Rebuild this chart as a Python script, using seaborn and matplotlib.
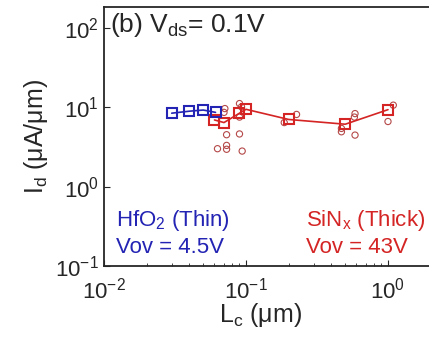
import matplotlib
matplotlib.use("Agg")
import matplotlib.pyplot as plt
import seaborn as sns
import pandas as pd

# HfO2 (thin) averages
hfo2_lc = [0.030, 0.040, 0.050, 0.061]
hfo2_id = [8.4, 8.9, 9.2, 8.6]

# SiNx (thick) averages
sinx_lc = [0.060, 0.070, 0.090, 0.100, 0.20, 0.50, 1.00]
sinx_id = [6.9, 6.4, 8.4, 9.4, 7.0, 6.1, 9.3]

# SiNx individual devices
raw_lc = [0.063, 0.071, 0.070, 0.073, 0.073, 0.073,
          0.090, 0.093, 0.090, 0.090, 0.094,
          0.227, 0.186,
          0.586, 0.580, 0.470, 0.470, 0.586,
          1.09, 1.00]
raw_id = [3.0, 9.6, 8.6, 4.5, 3.3, 2.95,
          11.1, 10.1, 7.5, 4.6, 2.8,
          8.1, 6.4,
          8.3, 7.5, 5.4, 4.9, 4.45,
          10.6, 6.6]

hfo2 = pd.DataFrame({"Lc": hfo2_lc, "Id": hfo2_id})
sinx = pd.DataFrame({"Lc": sinx_lc, "Id": sinx_id})
raw = pd.DataFrame({"Lc": raw_lc, "Id": raw_id})

blue = "#2323b4"
red = "#d42424"
dark_red = "#b54848"

sns.set_style("ticks")
plt.rcParams["font.family"] = ["Liberation Sans", "DejaVu Sans"]
plt.rcParams["mathtext.fontset"] = "custom"
plt.rcParams["mathtext.rm"] = "Liberation Sans"
plt.rcParams["mathtext.it"] = "Liberation Sans"

fig = plt.figure(figsize=(4.29, 3.38), dpi=100)
# right part of the axes runs past the figure edge, as in the cropped original
ax = fig.add_axes([0.2424, 0.213, 0.8275, 0.766])

sns.scatterplot(data=raw, x="Lc", y="Id", ax=ax, marker="o", s=20,
                facecolor="none", edgecolor=dark_red, linewidth=0.8, zorder=2)
sns.lineplot(data=sinx, x="Lc", y="Id", ax=ax, color=red, lw=1.2,
             marker="s", markersize=7.5, mfc="none", mec=red, mew=1.5,
             estimator=None, zorder=3)
sns.lineplot(data=hfo2, x="Lc", y="Id", ax=ax, color=blue, lw=1.2,
             marker="s", markersize=7.5, mfc="none", mec=blue, mew=1.5,
             estimator=None, zorder=4)

ax.set_xscale("log")
ax.set_yscale("log")
ax.set_xlim(0.01, 10 ** 0.5)
ax.set_ylim(0.1, 10 ** 2.26)
ax.set_xticks([0.01, 0.1, 1])
ax.set_yticks([0.1, 1, 10, 100])
ax.tick_params(which="both", direction="in", labelsize=16)
ax.tick_params(which="major", length=4)
ax.tick_params(which="minor", length=2)
ax.tick_params(axis="y", which="minor", length=0)
ax.tick_params(axis="x", which="both", pad=8)
for s in ax.spines.values():
    s.set_linewidth(1.3)

ax.set_xlabel(r"L$_\mathregular{c}$ (μm)", fontsize=18)
ax.xaxis.set_label_coords(0.44, -0.135)
ax.set_ylabel(r"I$_\mathregular{d}$ (μA/μm)", fontsize=18, labelpad=4)

fig.text(0.257, 0.925, r"(b) V$_\mathregular{ds}$= 0.1V", fontsize=19, va="center")
fig.text(0.27, 0.349, r"HfO$_\mathregular{2}$ (Thin)", fontsize=16, color=blue, va="center")
fig.text(0.27, 0.268, "Vov = 4.5V", fontsize=16, color=blue, va="center")
fig.text(0.713, 0.349, r"SiN$_\mathregular{x}$ (Thick)", fontsize=16, color=red, va="center")
fig.text(0.713, 0.268, "Vov = 43V", fontsize=16, color=red, va="center")

fig.savefig("out.png", dpi=100)
